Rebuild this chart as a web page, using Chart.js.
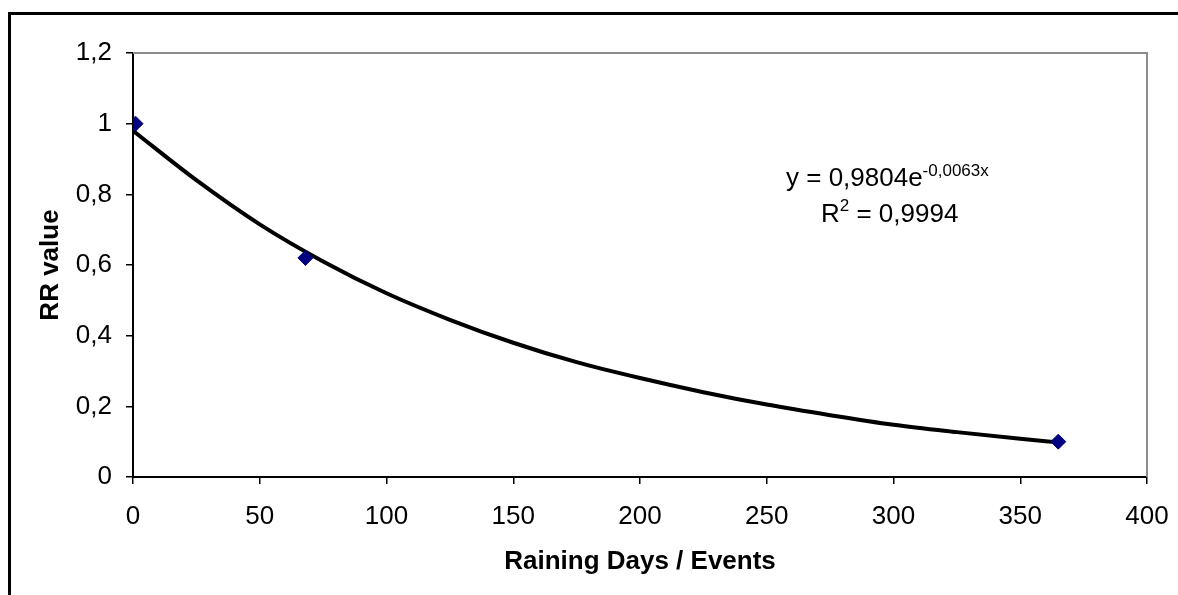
<!DOCTYPE html>
<html>
<head>
<meta charset="utf-8">
<script src="https://cdn.jsdelivr.net/npm/chart.js@4"></script>
<style>
  html, body { margin: 0; padding: 0; background: #fff; overflow: hidden; }
  #wrap { width: 1178px; height: 595px; }
</style>
</head>
<body>
<div id="wrap"><canvas id="myChart" width="1178" height="595"></canvas></div>
<script>
// measured points
const rainDays = [1, 68, 365];
const rrValues = [1, 0.62, 0.1];

// exponential trendline
const trendX = [0, 25, 50, 75, 100, 125, 150, 175, 200, 225, 250, 275, 300, 325, 350, 365];
const trendY = [0.98, 0.84, 0.715, 0.61, 0.52, 0.445, 0.38, 0.325, 0.28, 0.24, 0.205, 0.175, 0.148, 0.127, 0.108, 0.098];

const xTicks = [0, 50, 100, 150, 200, 250, 300, 350, 400];
const yTicks = [0, 0.2, 0.4, 0.6, 0.8, 1, 1.2];

const eqText = "y = 0,9804e";
const eqExp = "-0,0063x";
const r2Text = " = 0,9994";

const FONT = "'Liberation Sans', Arial, sans-serif";

function comma(v) {
  return String(Math.round(v * 10) / 10).replace(".", ",");
}

// frame round the chart + grey plot border + equation text
const decorations = {
  id: "decorations",
  beforeDraw(chart) {
    const ctx = chart.ctx;
    ctx.save();
    ctx.fillStyle = "#fff";
    ctx.fillRect(0, 0, chart.width, chart.height);
    ctx.strokeStyle = "#000";
    ctx.lineWidth = 3;
    ctx.strokeRect(9.5, 13.5, 1300, 700);
    ctx.restore();
  },
  beforeDatasetsDraw(chart) {
    const { ctx, chartArea } = chart;
    ctx.save();
    ctx.strokeStyle = "#8c8c8c";
    ctx.lineWidth = 2;
    ctx.beginPath();
    ctx.moveTo(chartArea.left, chartArea.top);
    ctx.lineTo(chartArea.right, chartArea.top);
    ctx.lineTo(chartArea.right, chartArea.bottom);
    ctx.stroke();
    ctx.restore();
  },
  afterDraw(chart) {
    const ctx = chart.ctx;
    ctx.save();
    ctx.fillStyle = "#000";
    ctx.textBaseline = "alphabetic";
    ctx.textAlign = "left";
    ctx.font = "26px " + FONT;
    ctx.fillText(eqText, 786, 186);
    let w = ctx.measureText(eqText).width;
    ctx.font = "17px " + FONT;
    ctx.fillText(eqExp, 786 + w, 176);

    ctx.font = "26px " + FONT;
    ctx.fillText("R", 821, 222);
    let wr = ctx.measureText("R").width;
    ctx.font = "17px " + FONT;
    ctx.fillText("2", 821 + wr, 211);
    let w2 = ctx.measureText("2").width;
    ctx.font = "26px " + FONT;
    ctx.fillText(r2Text, 821 + wr + w2, 222);
    ctx.restore();
  },
};

const ctx = document.getElementById("myChart").getContext("2d");

new Chart(ctx, {
  type: "scatter",
  data: {
    datasets: [
      {
        label: "RR",
        data: rainDays.map((d, i) => ({ x: d, y: rrValues[i] })),
        backgroundColor: "#000080",
        borderColor: "#000080",
        pointStyle: "rectRot",
        pointRadius: 7.5,
        pointBorderWidth: 1,
        showLine: false,
        order: 0,
      },
      {
        label: "Trend",
        data: trendX.map((d, i) => ({ x: d, y: trendY[i] })),
        borderColor: "#000",
        borderWidth: 4,
        pointRadius: 0,
        showLine: true,
        cubicInterpolationMode: "monotone",
        order: 1,
      },
    ],
  },
  options: {
    responsive: false,
    animation: false,
    layout: { padding: { left: 0, top: 53, right: 31, bottom: 0 } },
    plugins: {
      legend: { display: false },
      tooltip: { enabled: false },
    },
    scales: {
      x: {
        type: "linear",
        min: 0,
        max: 400,
        afterBuildTicks(scale) {
          scale.ticks = xTicks.map((v) => ({ value: v }));
        },
        afterFit(scale) {
          scale.height = 118;
          scale.paddingLeft = 0;
          scale.paddingRight = 0;
        },
        grid: { drawOnChartArea: false, drawTicks: true, tickLength: 7, color: "#000", lineWidth: 1.5 },
        border: { color: "#000", width: 2 },
        ticks: {
          color: "#000",
          font: { family: FONT, size: 26 },
          padding: 17,
          maxRotation: 0,
          callback: (v) => String(v),
        },
        title: {
          display: true,
          text: "Raining Days / Events",
          color: "#000",
          font: { family: FONT, size: 26, weight: "bold" },
          padding: { top: 0, bottom: 18 },
        },
      },
      y: {
        type: "linear",
        min: 0,
        max: 1.2,
        afterBuildTicks(scale) {
          scale.ticks = yTicks.map((v) => ({ value: v }));
        },
        afterFit(scale) {
          scale.width = 133;
          scale.paddingTop = 0;
          scale.paddingBottom = 0;
        },
        grid: { drawOnChartArea: false, drawTicks: true, tickLength: 7, color: "#000", lineWidth: 1.5 },
        border: { color: "#000", width: 2 },
        ticks: {
          color: "#000",
          font: { family: FONT, size: 26 },
          padding: 14,
          callback: (v) => comma(v),
        },
        title: {
          display: true,
          text: "RR value",
          color: "#000",
          font: { family: FONT, size: 26, weight: "bold" },
          padding: { top: 35, bottom: 0 },
        },
      },
    },
  },
  plugins: [decorations],
});
</script>
</body>
</html>
